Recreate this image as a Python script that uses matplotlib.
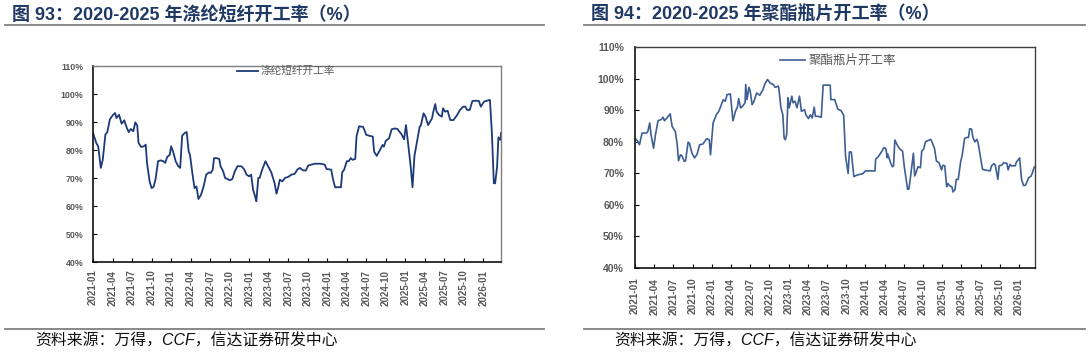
import matplotlib
matplotlib.use("Agg")
import matplotlib.pyplot as plt
from matplotlib.lines import Line2D

plt.rcParams["font.family"] = ["Liberation Sans", "Noto Sans CJK SC", "DejaVu Sans"]

# months since 2021-01 and utilisation (%)
psf_x = [0, 0.5, 0.8, 1.2, 1.5, 1.9, 2.2, 2.6, 3.1, 3.4, 3.6, 4.0, 4.4, 4.8, 5.2, 5.5,
         5.8, 6.2, 6.5, 6.8, 7.0, 7.4, 7.8, 8.1, 8.3, 8.7, 9.0, 9.3, 9.6, 10.0, 10.4,
         10.8, 11.1, 11.4, 11.8, 12.0, 12.3, 12.7, 13.1, 13.4, 13.7, 14.1, 14.4, 14.7,
         14.9, 15.3, 15.6, 15.9, 16.2, 16.6, 17.0, 17.4, 17.8, 18.1, 18.4, 18.6, 19.0,
         19.4, 19.6, 20.0, 20.3, 20.7, 21.0, 21.4, 21.8, 22.2, 22.8, 23.2, 23.6, 24.0,
         24.3, 24.6, 24.9, 25.1, 25.4, 25.6, 26.0, 26.5, 26.9, 27.4, 27.9, 28.2, 28.5,
         28.7, 29.1, 29.5, 30.0, 30.5, 31.0, 31.4, 31.8, 32.3, 32.7, 33.1, 33.6, 34.1,
         34.9, 35.6, 35.9, 36.6, 36.9, 37.2, 38.1, 38.3, 38.6, 39.0, 39.3, 39.6, 39.9,
         40.3, 40.5, 40.9, 41.3, 41.5, 42.0, 42.6, 43.0, 43.2, 43.6, 44.1, 44.5, 44.7,
         45.0, 45.5, 45.9, 46.4, 46.8, 47.1, 47.4, 47.8, 48.1, 48.5, 48.8, 49.1, 49.4,
         49.7, 50.2, 50.4, 50.8, 51.1, 51.5, 52.1, 52.3, 52.6, 52.8, 53.2, 53.6, 53.8,
         54.1, 54.5, 54.9, 55.4, 55.9, 56.4, 56.9, 57.2, 57.5, 57.9, 58.3, 58.9, 59.3,
         59.6, 60.1, 61.0, 61.3, 61.6, 61.8, 62.1, 62.3, 62.6, 62.7]
psf_y = [86.1, 82.5, 81.3, 73.6, 76.5, 85.5, 86.4, 91.0, 92.6, 93.2, 91.4, 92.6, 89.4, 90.6,
         87.9, 86.4, 87.5, 86.7, 89.9, 88.7, 82.5, 81.1, 81.3, 81.9, 75.4, 68.8, 66.4, 66.8,
         69.4, 76.0, 76.3, 76.0, 75.4, 77.5, 78.3, 81.3, 79.5, 76.0, 74.2, 73.6, 85.1, 86.1,
         86.4, 79.5, 78.3, 71.2, 66.4, 67.0, 62.5, 64.0, 67.0, 71.2, 72.0, 71.8, 73.0, 77.1,
         77.1, 76.8, 74.2, 72.4, 70.0, 69.6, 69.2, 69.6, 72.4, 74.2, 74.2, 73.2, 71.2, 70.6,
         71.2, 65.8, 63.5, 61.7, 70.0, 70.0, 73.0, 76.0, 74.2, 72.0, 68.2, 64.4, 67.0, 69.4,
         68.8, 70.0, 70.4, 71.2, 71.5, 73.0, 73.6, 72.7, 72.7, 74.5, 74.8, 75.1, 75.1, 74.8,
         73.2, 73.0, 69.4, 66.7, 66.7, 72.0, 73.0, 76.0, 76.0, 77.1, 76.5, 76.8, 84.9, 88.5,
         88.3, 88.3, 85.4, 85.0, 84.8, 79.4, 77.9, 80.0, 81.8, 81.2, 83.3, 84.2, 87.4, 87.7,
         87.5, 86.5, 85.7, 83.8, 88.9, 80.6, 74.6, 66.7, 77.9, 81.8, 88.3, 88.9, 93.1, 91.9,
         88.9, 91.3, 93.7, 96.4, 93.7, 92.5, 91.9, 94.9, 93.7, 94.0, 90.7, 90.7, 92.3, 94.3,
         95.5, 95.5, 94.3, 94.3, 97.5, 97.6, 97.5, 95.5, 97.3, 97.9, 86.0, 68.1, 68.1, 74.0,
         84.5, 83.6, 86.0]

pet_x = [0.05, 0.36, 0.7, 1.1, 1.8, 2.0, 2.3, 2.5, 2.9, 3.2, 3.6, 4.1, 4.4, 4.6, 5.0, 5.5,
         5.8, 6.3, 6.6, 6.8, 7.1, 7.3, 7.7, 7.9, 8.3, 8.5, 8.9, 9.3, 9.7, 10.1, 10.6, 11.2,
         11.6, 11.8, 12.2, 12.7, 13.1, 13.4, 13.8, 14.1, 14.4, 14.9, 15.3, 15.7, 16.0, 16.2,
         16.5, 16.8, 17.2, 17.3, 17.5, 17.8, 18.0, 18.3, 18.6, 19.0, 19.5, 20.0, 20.3, 20.7,
         21.1, 21.6, 21.9, 22.4, 22.5, 22.8, 23.1, 23.3, 23.5, 23.7, 23.9, 24.1, 24.5, 24.7,
         25.0, 25.3, 25.7, 26.0, 26.5, 26.7, 27.1, 27.4, 27.7, 28.0, 28.2, 28.6, 29.1, 29.4,
         30.2, 30.5, 30.6, 31.2, 31.7, 32.2, 32.6, 32.9, 33.3, 33.5, 33.8, 34.2, 34.6, 35.1,
         35.6, 36.0, 37.5, 37.6, 38.0, 38.5, 38.9, 39.2, 39.4, 39.5, 39.9, 40.2, 40.4, 40.6,
         41.0, 41.4, 41.8, 42.1, 42.6, 42.8, 43.1, 43.5, 43.7, 44.0, 44.2, 44.6, 44.8, 45.1,
         45.4, 45.9, 46.2, 46.4, 46.8, 47.1, 47.5, 47.9, 48.1, 48.4, 48.7, 48.9, 49.2, 49.5,
         49.7, 50.0, 50.2, 50.5, 50.9, 51.1, 51.5, 51.8, 52.1, 52.3, 52.6, 52.8, 53.1, 53.4,
         53.6, 54.0, 54.3, 54.9, 55.5, 55.7, 56.1, 56.3, 56.7, 56.9, 57.3, 57.6, 58.1, 58.3,
         58.6, 58.8, 59.4, 59.6, 60.1, 60.4, 60.7, 61.0, 61.5, 61.9, 62.1, 62.4, 62.6]
pet_y = [81.0, 80.4, 79.1, 82.8, 82.8, 83.3, 86.0, 82.3, 78.0, 82.3, 86.7, 87.1, 87.8, 86.7,
         87.6, 88.9, 84.9, 83.3, 79.1, 74.0, 75.9, 75.7, 73.8, 74.0, 79.9, 79.6, 76.4, 74.9,
         76.1, 79.1, 79.3, 81.0, 80.7, 75.9, 86.0, 88.6, 89.7, 91.3, 93.4, 92.9, 95.0, 95.2,
         86.7, 89.7, 91.0, 93.7, 90.8, 91.3, 92.4, 98.2, 93.4, 97.3, 96.1, 91.8, 92.9, 95.5,
         94.8, 96.6, 98.4, 99.8, 98.7, 98.2, 97.3, 97.7, 96.6, 90.8, 88.6, 81.2, 80.7, 82.3,
         94.0, 90.8, 94.5, 92.4, 92.9, 90.8, 94.5, 89.7, 90.2, 88.6, 87.4, 88.6, 87.6, 91.0,
         88.1, 88.1, 87.8, 98.0, 98.0, 98.0, 93.4, 93.4, 90.4, 89.9, 88.5, 75.5, 70.0, 76.8,
         76.8, 69.0, 69.4, 69.7, 69.9, 70.8, 70.8, 74.5, 75.3, 76.8, 78.2, 77.9, 75.0, 76.1,
         73.6, 72.1, 72.4, 80.6, 78.9, 77.7, 77.1, 71.8, 64.9, 65.1, 69.7, 76.4, 69.2, 70.8,
         72.1, 71.8, 77.1, 77.7, 80.1, 80.5, 80.8, 80.0, 77.9, 73.9, 73.4, 71.1, 72.6, 72.4,
         65.8, 66.8, 66.0, 65.8, 64.1, 64.9, 68.1, 68.1, 73.9, 75.5, 81.1, 81.4, 81.4, 84.2,
         84.0, 81.4, 80.0, 80.8, 79.8, 75.0, 71.3, 71.0, 70.8, 72.4, 73.1, 72.6, 68.1, 72.4,
         72.6, 73.4, 73.2, 71.1, 72.9, 72.4, 72.4, 73.6, 74.9, 68.1, 66.2, 66.2, 68.6, 69.2,
         70.2, 72.1, 72.1]

tick_pos = list(range(0, 61, 3))
tick_labels = [f"{y}-{m:02d}" for y in range(2021, 2027) for m in (1, 4, 7, 10)][:21]
y_ticks = [40, 50, 60, 70, 80, 90, 100, 110]

titles = ["图 93：2020-2025 年涤纶短纤开工率（%）", "图 94：2020-2025 年聚酯瓶片开工率（%）"]
source = "资料来源：万得，CCF，信达证券研发中心"

W, H = 1088, 353
fig = plt.figure(figsize=(W / 100, H / 100), dpi=100)


def fx(px):
    return px / W


def fy(py):
    return 1 - py / H


def style_axis(ax, xmax, ysize, xsize, ypad, xpad, edge):
    ax.set_xlim(0, xmax)
    ax.set_ylim(40, 110)
    ax.set_yticks(y_ticks)
    ax.set_yticklabels([f"{v}%" for v in y_ticks])
    ax.set_xticks(tick_pos)
    ax.set_xticklabels(tick_labels, rotation=90)
    ax.tick_params(axis="y", direction="in", length=3, width=0.8, pad=ypad,
                   labelsize=ysize, labelcolor="#595959")
    ax.tick_params(axis="x", direction="in", length=3, width=0.8, pad=xpad,
                   labelsize=xsize, labelcolor="#595959")
    for lab in ax.get_xticklabels() + ax.get_yticklabels():
        lab.set_fontweight("bold")
    for side in ("left", "bottom"):
        ax.spines[side].set_color("#111111")
        ax.spines[side].set_linewidth(1.2)
    for side in ("top", "right"):
        ax.spines[side].set_color(edge)
        ax.spines[side].set_linewidth(1.0)


# left chart
ax1 = fig.add_axes([fx(93), fy(262), fx(501 - 93), (262 - 66) / H])
ax1.plot(psf_x, psf_y, color="#1c3a7a", lw=1.3, label="涤纶短纤开工率")
style_axis(ax1, 62.7, 6.4, 7, 7, 5.5, "#7f7f7f")
ax1.legend(loc="center left", bbox_to_anchor=(fx(232), fy(71)), bbox_transform=fig.transFigure,
           frameon=False, fontsize=7.7, handlelength=1.9, handletextpad=0.3, borderpad=0,
           labelcolor="#595959")

# right chart
ax2 = fig.add_axes([fx(635), fy(268), fx(1035 - 635), (268 - 47.3) / H])
ax2.plot(pet_x, pet_y, color="#3d5f94", lw=1.2, label="聚酯瓶片开工率")
style_axis(ax2, 62.5, 7.5, 7.2, 8, 7, "#404040")
ax2.legend(loc="center left", bbox_to_anchor=(fx(774), fy(61)), bbox_transform=fig.transFigure,
           frameon=False, fontsize=9, handlelength=2.0, handletextpad=0.3, borderpad=0,
           labelcolor="#595959")

# titles, rules and source notes
for x0, x1, title in [(5, 544, titles[0]), (584, 1085, titles[1])]:
    fig.text(fx(x0 + 7), fy(14.5), title, fontsize=13, fontweight="bold",
             color="#1f3864", va="center", ha="left")
    fig.add_artist(Line2D([fx(x0), fx(x1)], [fy(25), fy(25)], color="#7f7f7f", lw=1.3))
    fig.add_artist(Line2D([fx(x0), fx(x1)], [fy(329), fy(329)], color="#7f7f7f", lw=1.3))
    fig.text(fx(x0 + 30), fy(340), source, fontsize=11.4, style="italic",
             color="#111111", va="center", ha="left")

fig.savefig("out.png", dpi=100)
